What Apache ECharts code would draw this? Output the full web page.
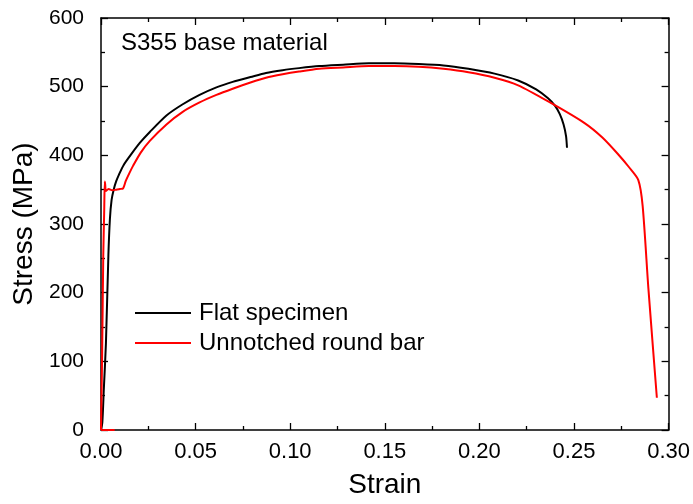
<!DOCTYPE html>
<html>
<head>
<meta charset="utf-8">
<script src="https://cdn.jsdelivr.net/npm/echarts@6/dist/echarts.min.js"></script>
<style>
  html, body { margin: 0; padding: 0; background: #fff; }
  #chart { width: 693px; height: 504px; }
</style>
</head>
<body>
<div id="chart"></div>
<script>
// ---- data ----
const titleText = 'S355 base material';
const xTicks = [0, 0.05, 0.10, 0.15, 0.20, 0.25, 0.30];
const yTicks = [0, 100, 200, 300, 400, 500, 600];

const flatName = 'Flat specimen';
const flatStrain = [0, 0.0007, 0.0015, 0.0026, 0.0039, 0.0047, 0.0056, 0.0067, 0.0080, 0.0095, 0.0120, 0.0161, 0.0205, 0.0258, 0.0346, 0.0430, 0.0521, 0.0610, 0.0696, 0.0790, 0.0872, 0.0960, 0.1047, 0.1153, 0.1280, 0.1416, 0.1550, 0.1679, 0.1810, 0.1942, 0.2080, 0.2205, 0.2300, 0.2363, 0.2400, 0.2425, 0.2445, 0.2458, 0.2463];
const flatStress = [0, 11, 60, 126, 254, 307, 335, 350, 362, 372, 386, 402, 418, 434, 458, 474, 488, 499, 507, 514, 520, 524, 527, 530, 532, 534, 534, 533, 531, 526, 519, 509, 496, 483, 472, 460, 445, 428, 411];

const roundName = 'Unnotched round bar';
// short preload trace lying on the strain axis
const roundBaseStrain = [0, 0.0072];
const roundBaseStress = [0, 0];
const roundStrain = [0, 0.0006, 0.0012, 0.0017, 0.0020, 0.0022, 0.0026, 0.0040, 0.0060, 0.0080, 0.0100, 0.0117, 0.0130, 0.0150, 0.0170, 0.0210, 0.0258, 0.0346, 0.0430, 0.0521, 0.0610, 0.0696, 0.0790, 0.0872, 0.0960, 0.1047, 0.1153, 0.1280, 0.1416, 0.1550, 0.1679, 0.1810, 0.1942, 0.2080, 0.2205, 0.2380, 0.2556, 0.2650, 0.2732, 0.2790, 0.2840, 0.2863, 0.2893, 0.2938];
const roundStress = [0, 110, 254, 320, 362, 358, 348, 351, 349, 350, 351, 352, 362, 374, 385, 404, 421, 445, 463, 477, 488, 497, 506, 513, 518, 522, 526, 528, 530, 530, 529, 526, 521, 513, 502, 476, 447, 426, 402, 383, 364, 326, 207, 47];

const zip = (xs, ys) => xs.map((x, i) => [x, ys[i]]);

const FONT = 'Liberation Sans, Arial, sans-serif';
const axisLine = { show: true, onZero: false, lineStyle: { color: '#000', width: 1.5 } };
const axisTick = { show: true, inside: true, length: 7, lineStyle: { color: '#000', width: 1.3 } };
const minorTick = { show: true, splitNumber: 2, length: 4, lineStyle: { color: '#000', width: 1.3 } };

const chart = echarts.init(document.getElementById('chart'), null, { renderer: 'canvas' });
chart.setOption({
  animation: false,
  backgroundColor: '#fff',
  title: {
    text: titleText, left: 121, top: 31, padding: 0,
    textStyle: { fontFamily: FONT, fontSize: 24, fontWeight: 'normal', color: '#000' }
  },
  legend: {
    left: 135, top: 301, orient: 'vertical', padding: 0,
    icon: 'rect', itemWidth: 56, itemHeight: 2, itemGap: 6,
    data: [flatName, roundName],
    textStyle: { fontFamily: FONT, fontSize: 24, color: '#000', lineHeight: 24, padding: [0, 0, 0, 3] }
  },
  grid: { left: 101, top: 18, width: 570, height: 420, containLabel: false },
  xAxis: [{
    type: 'value', min: xTicks[0], max: xTicks[xTicks.length - 1], interval: 0.05,
    position: 'bottom',
    name: 'Strain', nameLocation: 'middle', nameGap: 41,
    nameTextStyle: { fontFamily: FONT, fontSize: 28, color: '#000' },
    axisLine, axisTick, minorTick, splitLine: { show: false },
    axisLabel: { fontFamily: FONT, fontSize: 22, color: '#000', margin: 11,
      formatter: v => v.toFixed(2) }
  }, {
    type: 'value', min: xTicks[0], max: xTicks[xTicks.length - 1], interval: 0.05,
    position: 'top', axisLine, axisTick, minorTick, splitLine: { show: false },
    axisLabel: { show: false }
  }],
  yAxis: [{
    type: 'value', min: yTicks[0], max: yTicks[yTicks.length - 1], interval: 100,
    position: 'left',
    name: 'Stress (MPa)', nameLocation: 'middle', nameGap: 58,
    nameTextStyle: { fontFamily: FONT, fontSize: 28, color: '#000' },
    axisLine, axisTick, minorTick, splitLine: { show: false },
    axisLabel: { fontFamily: FONT, fontSize: 21, color: '#000', margin: 17 }
  }, {
    type: 'value', min: yTicks[0], max: yTicks[yTicks.length - 1], interval: 100,
    position: 'right', axisLine, axisTick, minorTick, splitLine: { show: false },
    axisLabel: { show: false }
  }],
  series: [{
    name: flatName, type: 'line', xAxisIndex: 0, yAxisIndex: 0,
    data: zip(flatStrain, flatStress), symbol: 'none',
    smooth: 0.25,
    itemStyle: { color: '#000' },
    lineStyle: { color: '#000', width: 2 }
  }, {
    name: 'round-base', type: 'line', xAxisIndex: 0, yAxisIndex: 0,
    data: zip(roundBaseStrain, roundBaseStress), symbol: 'none',
    lineStyle: { color: '#ff0000', width: 2 }, z: 1
  }, {
    name: roundName, type: 'line', xAxisIndex: 0, yAxisIndex: 0,
    data: zip(roundStrain, roundStress), symbol: 'none',
    smooth: 0.25,
    itemStyle: { color: '#ff0000' },
    lineStyle: { color: '#ff0000', width: 2 }
  }]
});
</script>
</body>
</html>
